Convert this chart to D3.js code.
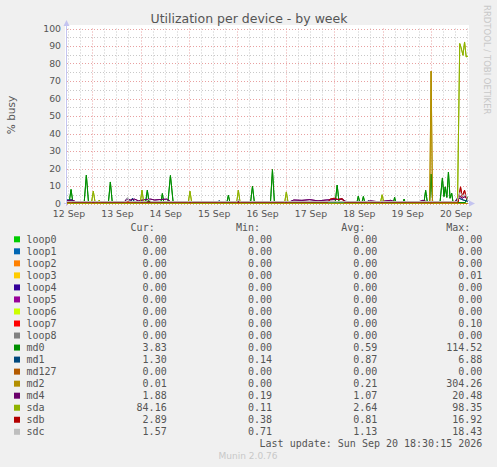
<!DOCTYPE html>
<html>
<head>
<meta charset="utf-8">
<script src="https://cdn.jsdelivr.net/npm/d3@7"></script>
<style>
  body { margin: 0; background: #f0f0f0; }
  svg { display: block; }
  text { fill: #555; }
</style>
</head>
<body>
<div id="chart"></div>
<script>
"use strict";

// device names and legend colours (munin palette)
var devices = ["loop0", "loop1", "loop2", "loop3", "loop4", "loop5", "loop6", "loop7", "loop8",
  "md0", "md1", "md127", "md2", "md4", "sda", "sdb", "sdc"];
var colors = ["#00CC00", "#0066B3", "#FF8000", "#FFCC00", "#330099", "#990099", "#CCFF00", "#FF0000", "#808080",
  "#008F00", "#00487D", "#B35A00", "#B38F00", "#6B006B", "#8FB300", "#B30000", "#BEBEBE"];

var curVals = ["0.00", "0.00", "0.00", "0.00", "0.00", "0.00", "0.00", "0.00", "0.00",
  "3.83", "1.30", "0.00", "0.01", "1.88", "84.16", "2.89", "1.57"];
var minVals = ["0.00", "0.00", "0.00", "0.00", "0.00", "0.00", "0.00", "0.00", "0.00",
  "0.00", "0.14", "0.00", "0.00", "0.19", "0.11", "0.38", "0.71"];
var avgVals = ["0.00", "0.00", "0.00", "0.00", "0.00", "0.00", "0.00", "0.00", "0.00",
  "0.59", "0.87", "0.00", "0.21", "1.07", "2.64", "0.81", "1.13"];
var maxVals = ["0.00", "0.00", "0.00", "0.01", "0.00", "0.00", "0.00", "0.10", "0.00",
  "114.52", "6.88", "0.00", "304.26", "20.48", "98.35", "16.92", "18.43"];

var yTicks = [0, 10, 20, 30, 40, 50, 60, 70, 80, 90, 100];

// samples: [hours since 12 Sep 00:00, % busy]
var zeroLine = [[11.5, 0], [210.3, 0]];
var md0 = [[11.5, 0.1], [12.5, 0.1], [13.5, 8], [14.5, 0.1], [20, 0.1], [21.1, 16.2], [22.2, 0.1],
  [32, 0.1], [33, 12.3], [34, 0.1], [50.4, 0.1], [51.35, 7.6], [52.3, 0.1], [58, 0.1], [58.8, 5.7],
  [59.6, 0.1], [61.5, 0.1], [62.8, 16], [64.2, 0.1], [90.7, 0.1], [91.55, 4.7], [92.4, 0.1],
  [102.5, 0.1], [103.5, 9.9], [104.5, 0.1], [112.4, 0.1], [113.4, 19.4], [114.4, 0.1],
  [144.5, 0.1], [145.5, 10.5], [146.5, 0.1], [155.2, 0.1], [156, 4.2], [156.8, 0.1],
  [157.7, 0.1], [158.5, 4], [159.3, 0.1], [173.3, 0.1], [174, 3.5], [174.7, 0.1],
  [178, 0.1], [178.7, 2.5], [179.4, 0.1], [188.5, 0.1], [189.4, 7.5], [190.3, 0.1],
  [191.3, 0.1], [192.1, 16.8], [192.9, 0.1], [196.5, 0.5], [197.7, 14.5], [198.5, 4],
  [199.1, 9.5], [199.9, 3.5], [200.7, 18], [201.5, 3], [202.3, 6], [203, 0.5], [209, 0.5], [210.3, 3.83]];
var md1 = [[11.5, 2], [14, 2], [15, 0.8], [40, 0.8], [41.5, 3], [43, 1], [44, 3], [45, 0.8],
  [86, 0.8], [87, 1.5], [88, 0.8], [160, 0.8], [161, 1.5], [162, 0.8], [204, 0.8], [206, 3],
  [208, 2], [210.3, 1.3]];
var md2 = [[11.5, 0], [191.4, 0], [192.1, 75.6], [192.8, 0], [210.3, 0.01]];
var md4 = [[11.5, 1.5], [14, 2], [16, 1], [40, 1], [41, 2.5], [43, 2], [45, 2.5], [47, 1.5],
  [50, 2.2], [53, 2.5], [55, 2], [58, 2.3], [61, 2.5], [63, 1], [122, 1], [124, 2], [128, 1.8],
  [132, 2.2], [136, 1.5], [140, 2], [148, 2.5], [150, 1], [160, 1], [162, 1.5], [166, 1],
  [172, 1.8], [174, 1], [186, 1], [188, 1.8], [190, 1], [204, 1], [206, 4.5], [207.5, 3],
  [209, 4], [210.3, 1.88]];
var sda = [[11.5, 0.2], [23.6, 0.2], [24.55, 7], [25.5, 0.2], [27, 0.2], [27.5, 2], [28, 0.2],
  [47.8, 0.2], [48.7, 7.6], [49.6, 0.2], [71.6, 0.2], [72.5, 7], [73.4, 0.2], [95.6, 0.2],
  [96.5, 7.6], [97.4, 0.2], [119.4, 0.2], [120.3, 6.6], [121.2, 0.2], [166.9, 0.2], [167.8, 5],
  [168.7, 0.2], [205.2, 0.5], [206.3, 91.4], [207, 89], [207.9, 84.7], [208.7, 92.3],
  [209.5, 83.8], [210.3, 84.16]];
var sdb = [[11.5, 0.8], [141, 0.8], [142, 2.5], [144, 3], [146, 2.2], [148, 2.8], [149, 0.8],
  [205.5, 0.8], [206.7, 9.5], [207.5, 4], [208.7, 7.6], [209.5, 3], [210.3, 2.89]];
var sdc = [[11.5, 1.1], [41, 1.1], [41.5, 3.5], [42.5, 1.1], [51, 1.1], [52, 2.5], [53, 1.1],
  [96, 1.1], [96.5, 2.5], [97, 1.1], [205, 1.1], [206.5, 6.5], [208, 4], [209.5, 5], [210.3, 1.57]];

var series = [zeroLine, zeroLine, zeroLine, zeroLine, zeroLine, zeroLine, zeroLine, zeroLine, zeroLine,
  md0, md1, zeroLine, md2, md4, sda, sdb, sdc];

var t0 = new Date(2026, 8, 12);
function toDate(h) { return new Date(t0.getTime() + h * 3600e3); }

var width = 497, height = 467;
var svg = d3.select("#chart").append("svg")
  .attr("width", width)
  .attr("height", height);

var x = d3.scaleTime()
  .domain([toDate(11.5), toDate(210.3)])
  .range([67, 467.8]);
var y = d3.scaleLinear()
  .domain([0, 100])
  .range([203.5, 28.5]);

// plot canvas
svg.append("rect")
  .attr("x", 65).attr("y", 25)
  .attr("width", 404).attr("height", 180)
  .attr("fill", "#fff");

var grid = svg.append("g").attr("stroke-dasharray", "1,2").attr("stroke-width", 1);

d3.range(5, 100, 10).forEach(function(v) {
  grid.append("line")
    .attr("x1", 67).attr("x2", 468.3)
    .attr("y1", Math.round(y(v)) + 0.5).attr("y2", Math.round(y(v)) + 0.5)
    .attr("stroke", "#c8c8c8");
});
x.ticks(d3.timeHour.every(6)).forEach(function(d) {
  if (d.getHours() === 0) return;
  grid.append("line")
    .attr("x1", Math.round(x(d)) + 0.5).attr("x2", Math.round(x(d)) + 0.5)
    .attr("y1", 28.5).attr("y2", 203.5)
    .attr("stroke", "#c8c8c8");
});
yTicks.forEach(function(v) {
  grid.append("line")
    .attr("x1", 67).attr("x2", 468.3)
    .attr("y1", Math.round(y(v)) + 0.5).attr("y2", Math.round(y(v)) + 0.5)
    .attr("stroke", "#e8a0a0");
});
x.ticks(d3.timeDay.every(1)).forEach(function(d) {
  grid.append("line")
    .attr("x1", Math.round(x(d)) + 0.5).attr("x2", Math.round(x(d)) + 0.5)
    .attr("y1", 28.5).attr("y2", 203.5)
    .attr("stroke", "#e8a0a0");
});

// y labels
svg.append("g").selectAll("text")
  .data(yTicks)
  .enter().append("text")
  .attr("x", 61)
  .attr("y", function(d) { return y(d) + 3.2; })
  .attr("text-anchor", "end")
  .attr("font-family", "DejaVu Sans")
  .attr("font-size", 9.3)
  .text(function(d) { return d; });

// x labels, centred on noon of each day
var fmt = d3.timeFormat("%-d %b");
var days = d3.timeDay.range(d3.timeDay.floor(x.domain()[0]), x.domain()[1]);
svg.append("g").selectAll("text")
  .data(days.filter(function(d) { return d3.timeHour.offset(d, 12) >= x.domain()[0]; }))
  .enter().append("text")
  .attr("x", function(d) { return x(d3.timeHour.offset(d, 12)) + 1; })
  .attr("y", 217.2)
  .attr("text-anchor", "middle")
  .attr("font-family", "DejaVu Sans")
  .attr("font-size", 9.3)
  .text(fmt);

// data lines
var line = d3.line()
  .x(function(d) { return x(toDate(d[0])); })
  .y(function(d) { return y(d[1]); });

svg.append("g").selectAll("path")
  .data(series)
  .enter().append("path")
  .attr("d", line)
  .attr("fill", "none")
  .attr("stroke", function(d, i) { return colors[i]; })
  .attr("stroke-width", 1);

// axes with arrows
var axisColor = "#c4c4f0";
svg.append("line")
  .attr("x1", 66.5).attr("x2", 66.5).attr("y1", 206).attr("y2", 24)
  .attr("stroke", axisColor);
svg.append("path")
  .attr("d", "M63.5,26 L66.5,20 L69.5,26 Z")
  .attr("fill", axisColor);
svg.append("line")
  .attr("x1", 64).attr("x2", 470).attr("y1", 203.5).attr("y2", 203.5)
  .attr("stroke", axisColor);
svg.append("path")
  .attr("d", "M469,200.5 L475,203.5 L469,206.5 Z")
  .attr("fill", axisColor);

// redraw the disk lines on top of the axis line
svg.append("g").selectAll("path")
  .data(series.slice(9))
  .enter().append("path")
  .attr("d", line)
  .attr("fill", "none")
  .attr("stroke", function(d, i) { return colors[i + 9]; })
  .attr("stroke-width", 1);

// titles
svg.append("text")
  .attr("x", 249).attr("y", 23)
  .attr("text-anchor", "middle")
  .attr("font-family", "DejaVu Sans")
  .attr("font-size", 12.5)
  .text("Utilization per device - by week");

svg.append("text")
  .attr("transform", "translate(15,115) rotate(-90)")
  .attr("text-anchor", "middle")
  .attr("font-family", "DejaVu Sans")
  .attr("font-size", 10.5)
  .text("% busy");

svg.append("text")
  .attr("transform", "translate(484,5) rotate(90)")
  .attr("font-family", "DejaVu Sans")
  .attr("font-size", 8.5)
  .style("fill", "#c8c8c8")
  .text("RRDTOOL / TOBI OETIKER");

// legend
var mono = "DejaVu Sans Mono";
var colEnds = [166.7, 272, 377.3, 482.3];
var headers = ["Cur:", "Min:", "Avg:", "Max:"];
var legend = svg.append("g").attr("font-family", mono).attr("font-size", 10);

legend.selectAll(".hdr")
  .data(headers)
  .enter().append("text")
  .attr("class", "hdr")
  .attr("x", function(d, i) { return colEnds[i] - 12; })
  .attr("y", 231)
  .attr("text-anchor", "end")
  .text(function(d) { return d; });

var rows = legend.selectAll(".row")
  .data(devices)
  .enter().append("g")
  .attr("class", "row")
  .attr("transform", function(d, i) { return "translate(0," + (239.3 + i * 12.03) + ")"; });

rows.append("rect")
  .attr("x", 14).attr("y", -3)
  .attr("width", 6).attr("height", 6)
  .attr("fill", function(d, i) { return colors[i]; });

rows.append("text")
  .attr("x", 26.5).attr("y", 3.5)
  .text(function(d) { return d; });

[curVals, minVals, avgVals, maxVals].forEach(function(col, c) {
  rows.append("text")
    .attr("x", colEnds[c]).attr("y", 3.5)
    .attr("text-anchor", "end")
    .text(function(d, i) { return col[i]; });
});

legend.append("text")
  .attr("x", 482.3).attr("y", 447)
  .attr("text-anchor", "end")
  .text("Last update: Sun Sep 20 18:30:15 2026");

svg.append("text")
  .attr("x", 248).attr("y", 459)
  .attr("text-anchor", "middle")
  .attr("font-family", "DejaVu Sans")
  .attr("font-size", 9)
  .style("fill", "#c8c8c8")
  .text("Munin 2.0.76");
</script>
</body>
</html>
